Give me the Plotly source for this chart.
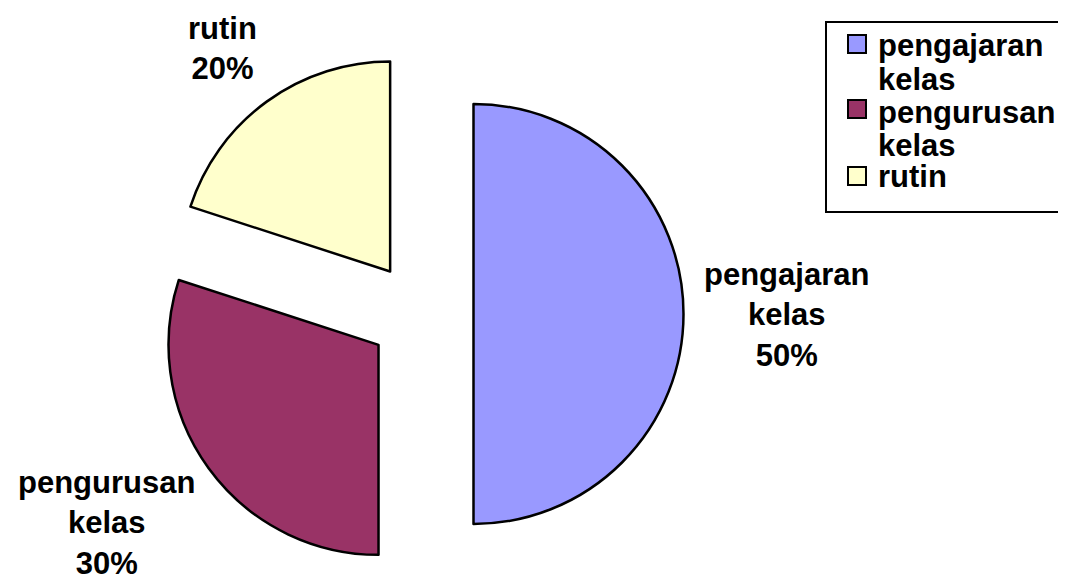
import plotly.graph_objects as go

labels = ["pengajaran<br>kelas", "pengurusan<br>kelas", "rutin"]
legend_lines = [["pengajaran", "kelas"], ["pengurusan", "kelas"], ["rutin"]]
values = [50, 30, 20]
colors = ["#9999FF", "#993366", "#FFFFCC"]

OFF = 8  # page body margin offset of the rendered div
W, H = 1066 - OFF, 577 - OFF
font_bold = dict(family="Liberation Sans, Arial, sans-serif", size=31, color="black", weight="bold")


def px(x):
    return (x - OFF) / W


def py(y):
    return 1 - (y - OFF) / H


# pie geometry (screen pixels): centre and overall radius incl. pull
cx, cy, rt = 421, 314, 262.5

fig = go.Figure(go.Pie(
    labels=labels,
    values=values,
    sort=False,
    direction="clockwise",
    rotation=0,
    pull=[0.25, 0.25, 0.25],
    marker=dict(colors=colors, line=dict(color="black", width=2.5)),
    textinfo="none",
    domain=dict(x=[px(cx - rt), px(cx + rt)], y=[max(0, py(cy + rt)), py(cy - rt)]),
    hoverinfo="label+percent",
    showlegend=False,
    automargin=False,
))

total = sum(values)
# data label placement (screen pixels, centre of text block)
label_pos = [(786, 315), (106, 523), (222, 48)]
annotations = []
for lab, v, (lx, ly) in zip(labels, values, label_pos):
    annotations.append(dict(xref="paper", yref="paper", x=px(lx), y=py(ly),
                            xanchor="center", yanchor="middle", align="center",
                            text=f"{lab}<br>{round(100 * v / total)}%",
                            showarrow=False, font=font_bold))

# custom legend (box, swatches, text)
shapes = [dict(type="rect", xref="paper", yref="paper",
               x0=px(826), x1=px(1090), y0=py(22), y1=py(212),
               line=dict(color="black", width=2), fillcolor="rgba(0,0,0,0)")]
sw_top = [35, 100, 167]
line_centers = [[46, 79], [112, 145], [177]]
for i, c in enumerate(colors):
    shapes.append(dict(type="rect", xref="paper", yref="paper",
                       x0=px(848), x1=px(866), y0=py(sw_top[i]), y1=py(sw_top[i] + 18),
                       line=dict(color="black", width=2), fillcolor=c))
    for txt, ly in zip(legend_lines[i], line_centers[i]):
        annotations.append(dict(xref="paper", yref="paper", x=px(876), y=py(ly),
                                xanchor="left", yanchor="middle", text=txt,
                                showarrow=False, font=font_bold))

fig.update_layout(
    width=W,
    height=H,
    autosize=False,
    margin=dict(l=0, r=0, t=0, b=0, pad=0, autoexpand=False),
    paper_bgcolor="white",
    plot_bgcolor="white",
    shapes=shapes,
    annotations=annotations,
)

fig.write_html("out.html")
